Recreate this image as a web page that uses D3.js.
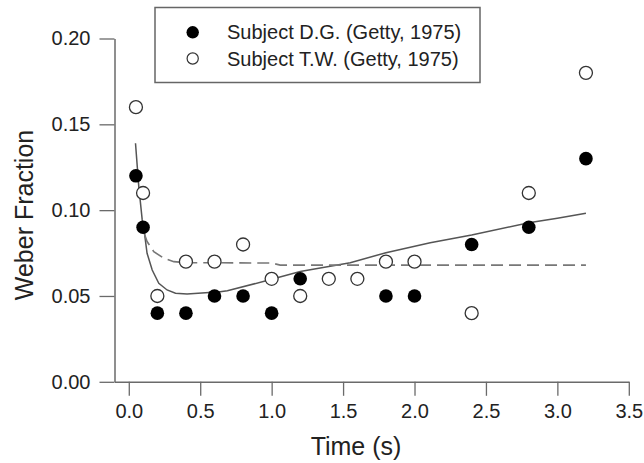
<!DOCTYPE html>
<html>
<head>
<meta charset="utf-8">
<script src="https://cdn.jsdelivr.net/npm/d3@7"></script>
<style>
  html, body { margin: 0; padding: 0; background: #fff; }
  svg { display: block; font-family: "Liberation Sans", Arial, Helvetica, sans-serif; }
</style>
</head>
<body>
<svg id="chart" width="644" height="463"></svg>
<script>
// Weber fraction vs. time: two subjects plus two model curves
const dgTimes  = [0.05, 0.1, 0.2, 0.4, 0.6, 0.8, 1.0, 1.2, 1.8, 2.0, 2.4, 2.8, 3.2];
const dgValues = [0.12, 0.09, 0.04, 0.04, 0.05, 0.05, 0.04, 0.06, 0.05, 0.05, 0.08, 0.09, 0.13];

const twTimes  = [0.05, 0.1, 0.2, 0.4, 0.6, 0.8, 1.0, 1.2, 1.4, 1.6, 1.8, 2.0, 2.4, 2.8, 3.2];
const twValues = [0.16, 0.11, 0.05, 0.07, 0.07, 0.08, 0.06, 0.05, 0.06, 0.06, 0.07, 0.07, 0.04, 0.11, 0.18];

// model curve (solid)
const solidTimes  = [0.047, 0.07, 0.094, 0.11, 0.128, 0.164, 0.21, 0.268, 0.327, 0.408, 0.64, 0.69, 1.0, 1.2, 1.55, 1.8, 2.11, 2.4, 2.8, 3.0, 3.2];
const solidValues = [0.139, 0.1137, 0.0943, 0.0865, 0.0749, 0.0651, 0.0574, 0.0535, 0.0516, 0.0512, 0.0525, 0.053, 0.0597, 0.0642, 0.0694, 0.0752, 0.081, 0.0855, 0.0927, 0.0953, 0.0982];

// model curve (dashed)
const dashTimes  = [0.11, 0.128, 0.175, 0.245, 0.315, 0.40, 1.0, 1.06, 3.2];
const dashValues = [0.086, 0.0817, 0.0758, 0.072, 0.070, 0.0694, 0.0692, 0.068, 0.068];

const xTicks = [0.0, 0.5, 1.0, 1.5, 2.0, 2.5, 3.0, 3.5];
const yTicks = [0.00, 0.05, 0.10, 0.15, 0.20];

const legendLabels = ["Subject D.G. (Getty, 1975)", "Subject T.W. (Getty, 1975)"];

const svg = d3.select("#chart");

const x = d3.scaleLinear().domain([-0.1, 3.5]).range([114.5, 628.8]);
const y = d3.scaleLinear().domain([0, 0.2]).range([381.8, 38.5]);

const axisColor = "#6a6a6a";
const textColor = "#222";

// x axis
const gx = svg.append("g").attr("transform", `translate(0,${y(0)})`)
  .call(d3.axisBottom(x).tickValues(xTicks).tickFormat(d3.format(".1f"))
    .tickSize(14).tickSizeOuter(0).tickPadding(8));
gx.select(".domain").attr("stroke", axisColor).attr("stroke-width", 1.5);
gx.selectAll(".tick line").attr("stroke", axisColor).attr("stroke-width", 1.3);
gx.selectAll(".tick text").attr("fill", textColor).attr("font-size", 20)
  .attr("font-family", "Liberation Sans, Arial, sans-serif");

// y axis
const gy = svg.append("g").attr("transform", `translate(${x(-0.1)},0)`)
  .call(d3.axisLeft(y).tickValues(yTicks).tickFormat(d3.format(".2f"))
    .tickSize(15).tickSizeOuter(0).tickPadding(9));
gy.select(".domain").attr("stroke", axisColor).attr("stroke-width", 1.5);
gy.selectAll(".tick line").attr("stroke", axisColor).attr("stroke-width", 1.3);
gy.selectAll(".tick text").attr("fill", textColor).attr("font-size", 20)
  .attr("font-family", "Liberation Sans, Arial, sans-serif");

// axis titles
svg.append("text")
  .attr("x", 356).attr("y", 455)
  .attr("text-anchor", "middle")
  .attr("font-size", 25).attr("fill", textColor)
  .text("Time (s)");

svg.append("text")
  .attr("transform", "translate(33,215) rotate(-90)")
  .attr("text-anchor", "middle")
  .attr("font-size", 25).attr("fill", textColor)
  .text("Weber Fraction");

// model curves
const line = d3.line().x(d => x(d[0])).y(d => y(d[1]));

svg.append("path")
  .datum(solidTimes.map((t, i) => [t, solidValues[i]]))
  .attr("d", line)
  .attr("fill", "none").attr("stroke", "#555").attr("stroke-width", 1.5);

svg.append("path")
  .datum(dashTimes.map((t, i) => [t, dashValues[i]]))
  .attr("d", line)
  .attr("fill", "none").attr("stroke", "#777").attr("stroke-width", 1.6)
  .attr("stroke-dasharray", "12,6");

// data points
const r = 6.5;
svg.append("g").selectAll("circle")
  .data(twTimes.map((t, i) => [t, twValues[i]]))
  .join("circle")
  .attr("cx", d => x(d[0])).attr("cy", d => y(d[1])).attr("r", r)
  .attr("fill", "#fff").attr("stroke", "#333").attr("stroke-width", 1.3);

svg.append("g").selectAll("circle")
  .data(dgTimes.map((t, i) => [t, dgValues[i]]))
  .join("circle")
  .attr("cx", d => x(d[0])).attr("cy", d => y(d[1])).attr("r", r + 0.3)
  .attr("fill", "#000");

// legend
const lg = svg.append("g");
lg.append("rect")
  .attr("x", 155).attr("y", 7.5).attr("width", 325).attr("height", 75)
  .attr("fill", "#fff").attr("stroke", "#666").attr("stroke-width", 1.5);

const legendRows = [32.3, 58.5];
lg.append("circle").attr("cx", 192.7).attr("cy", legendRows[0]).attr("r", 6.2).attr("fill", "#000");
lg.append("circle").attr("cx", 192.7).attr("cy", legendRows[1]).attr("r", 5.6)
  .attr("fill", "#fff").attr("stroke", "#333").attr("stroke-width", 1.2);

lg.selectAll("text.lbl")
  .data(legendLabels)
  .join("text")
  .attr("class", "lbl")
  .attr("x", 227).attr("y", (d, i) => legendRows[i])
  .attr("dy", "0.35em")
  .attr("font-size", 20).attr("fill", textColor)
  .text(d => d);
</script>
</body>
</html>
